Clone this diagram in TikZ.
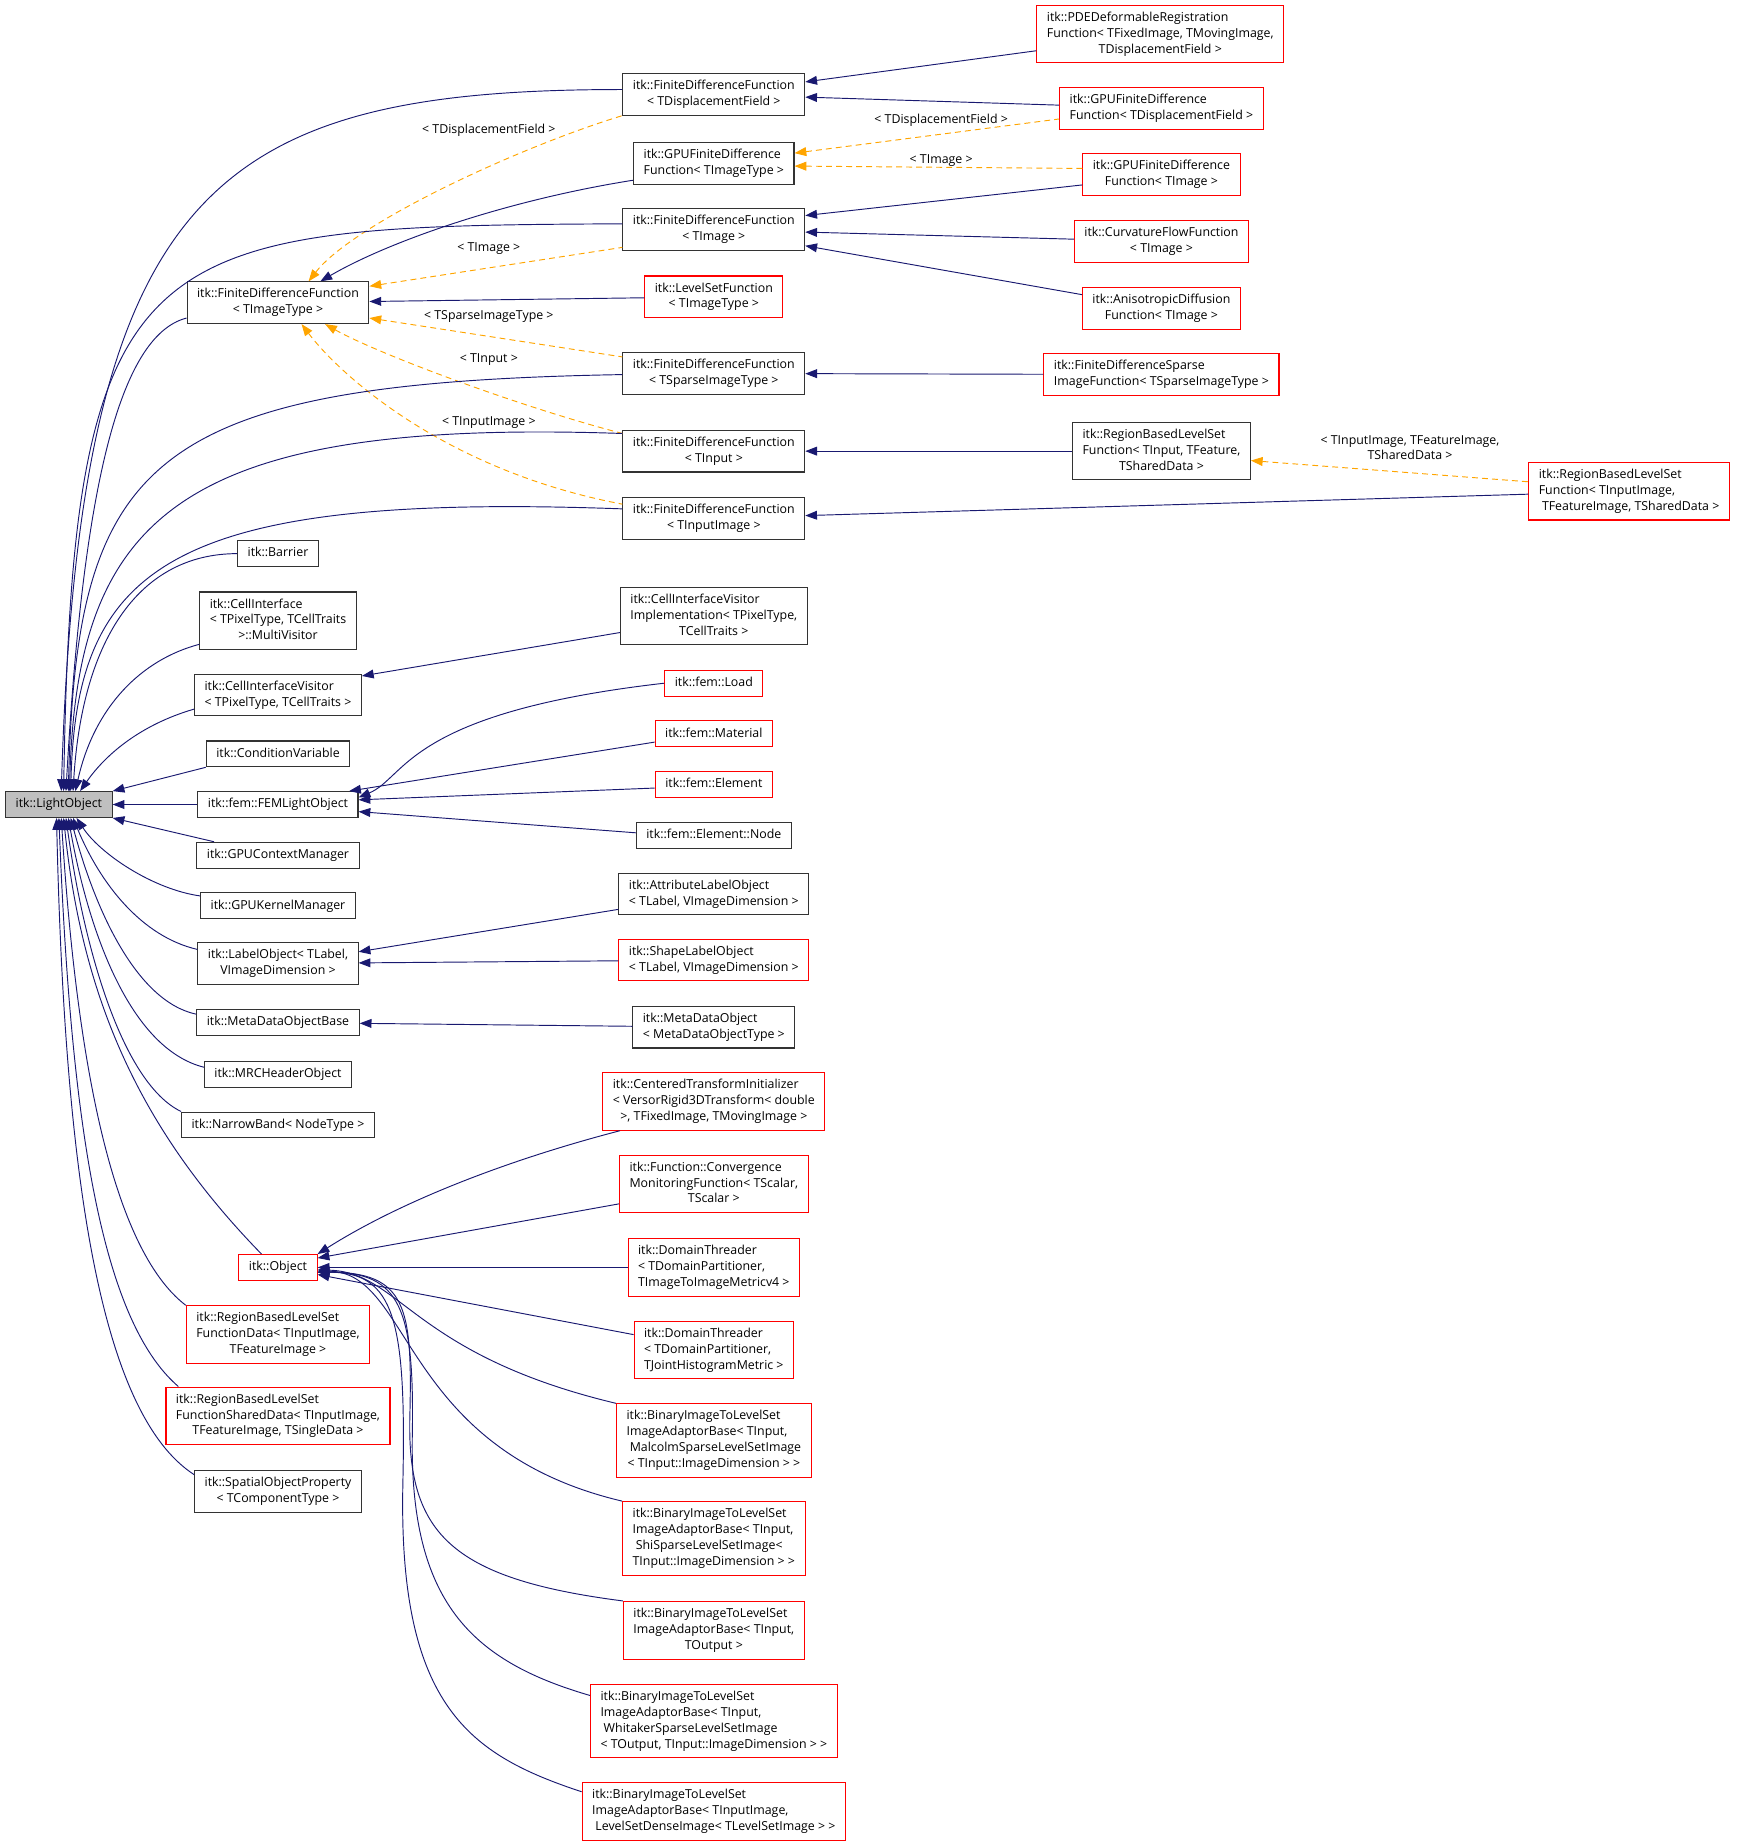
\documentclass[tikz,border=0pt]{standalone}
\usepackage{fontspec}
\setmainfont{Open Sans}
\usetikzlibrary{arrows.meta}
\definecolor{edgeblue}{HTML}{191970}
\definecolor{tplorange}{HTML}{FFA500}
\definecolor{rootgray}{HTML}{BFBFBF}
% one line, or several lines with the last one centred
\newcommand{\lone}[1]{\begin{tabular}{@{}c@{}}#1\end{tabular}}
\newcommand{\lmany}[2]{\begin{tabular}{@{}l@{}}#1\\\multicolumn{1}{@{}c@{}}{#2}\end{tabular}}

\begin{document}
\begin{tikzpicture}[x=1pt, y=-1pt,
    cls/.style={draw=black!80, line width=0.9pt, inner xsep=8.5pt, inner ysep=4.2pt, font=\fontsize{10.5}{13.5}\selectfont},
    ext/.style={cls, draw=red},
    root/.style={cls, fill=rootgray},
    lbl/.style={font=\fontsize{10.5}{13.5}\selectfont, inner sep=0pt, align=center},
    inh/.style={<-, >={Triangle[length=10pt,width=7.5pt]}, draw=edgeblue, line width=0.8pt},
    tpl/.style={<-, >={Triangle[length=10pt,width=7.5pt]}, draw=tplorange, line width=0.8pt, dash pattern=on 5pt off 3.5pt}]
    \useasboundingbox (0,0) rectangle (1476,1568);
    % Nodes
    \node[root] (lo) at (50,683) {\lone{itk::LightObject}};
    \node[cls] (fdfdisp) at (606,80) {\lmany{itk::FiniteDifferenceFunction}{< TDisplacementField >}};
    \node[ext] (pde) at (985,29) {\lmany{itk::PDEDeformableRegistration\\Function< TFixedImage, TMovingImage,}{TDisplacementField >}};
    \node[ext] (gpudisp) at (986,92) {\lmany{itk::GPUFiniteDifference}{Function< TDisplacementField >}};
    \node[cls] (gpufdf) at (606,139) {\lmany{itk::GPUFiniteDifference}{Function< TImageType >}};
    \node[ext] (gpuimg) at (986,148) {\lmany{itk::GPUFiniteDifference}{Function< TImage >}};
    \node[cls] (fdfimg) at (606,195) {\lmany{itk::FiniteDifferenceFunction}{< TImage >}};
    \node[ext] (curv) at (986,205) {\lmany{itk::CurvatureFlowFunction}{< TImage >}};
    \node[ext] (aniso) at (986,262) {\lmany{itk::AnisotropicDiffusion}{Function< TImage >}};
    \node[cls] (fdftype) at (236,257) {\lmany{itk::FiniteDifferenceFunction}{< TImageType >}};
    \node[ext] (lsf) at (606,252) {\lmany{itk::LevelSetFunction}{< TImageType >}};
    \node[cls] (fdfsparse) at (606,317) {\lmany{itk::FiniteDifferenceFunction}{< TSparseImageType >}};
    \node[ext] (fdsparse) at (986,318) {\lmany{itk::FiniteDifferenceSparse}{ImageFunction< TSparseImageType >}};
    \node[cls] (fdfinput) at (606,383) {\lmany{itk::FiniteDifferenceFunction}{< TInput >}};
    \node[cls] (rblsf) at (986,383) {\lmany{itk::RegionBasedLevelSet\\Function< TInput, TFeature,}{TSharedData >}};
    \node[ext] (rblsfimg) at (1383,417) {\lmany{itk::RegionBasedLevelSet\\Function< TInputImage,}{\ TFeatureImage, TSharedData >}};
    \node[cls] (fdfinimg) at (606,440) {\lmany{itk::FiniteDifferenceFunction}{< TInputImage >}};
    \node[cls] (barrier) at (236,470) {\lone{itk::Barrier}};
    \node[cls] (multivis) at (236,527) {\lmany{itk::CellInterface\\< TPixelType, TCellTraits}{>::MultiVisitor}};
    \node[cls] (civ) at (236,590) {\lmany{itk::CellInterfaceVisitor}{< TPixelType, TCellTraits >}};
    \node[cls] (civimpl) at (606,523) {\lmany{itk::CellInterfaceVisitor\\Implementation< TPixelType,}{TCellTraits >}};
    \node[cls] (condvar) at (236,640) {\lone{itk::ConditionVariable}};
    \node[cls] (fem) at (236,683) {\lone{itk::fem::FEMLightObject}};
    \node[ext] (load) at (606,580) {\lone{itk::fem::Load}};
    \node[ext] (material) at (606,623) {\lone{itk::fem::Material}};
    \node[ext] (element) at (606,666) {\lone{itk::fem::Element}};
    \node[cls] (elnode) at (606,709) {\lone{itk::fem::Element::Node}};
    \node[cls] (gpuctx) at (236,726) {\lone{itk::GPUContextManager}};
    \node[cls] (gpukern) at (236,769) {\lone{itk::GPUKernelManager}};
    \node[cls] (labelobj) at (236,818) {\lmany{itk::LabelObject< TLabel,}{VImageDimension >}};
    \node[cls] (attrlabel) at (606,759) {\lmany{itk::AttributeLabelObject}{< TLabel, VImageDimension >}};
    \node[ext] (shapelabel) at (606,815) {\lmany{itk::ShapeLabelObject}{< TLabel, VImageDimension >}};
    \node[cls] (mdobase) at (236,868) {\lone{itk::MetaDataObjectBase}};
    \node[cls] (mdo) at (606,872) {\lmany{itk::MetaDataObject}{< MetaDataObjectType >}};
    \node[cls] (mrc) at (236,912) {\lone{itk::MRCHeaderObject}};
    \node[cls] (narrow) at (236,955) {\lone{itk::NarrowBand< NodeType >}};
    \node[ext] (object) at (236,1076) {\lone{itk::Object}};
    \node[ext] (centered) at (606,935) {\lmany{itk::CenteredTransformInitializer\\< VersorRigid3DTransform< double}{>, TFixedImage, TMovingImage >}};
    \node[ext] (convmon) at (606,1005) {\lmany{itk::Function::Convergence\\MonitoringFunction< TScalar,}{TScalar >}};
    \node[ext] (dtmetric) at (606,1076) {\lmany{itk::DomainThreader\\< TDomainPartitioner,}{TImageToImageMetricv4 >}};
    \node[ext] (dtjoint) at (606,1146) {\lmany{itk::DomainThreader\\< TDomainPartitioner,}{TJointHistogramMetric >}};
    \node[ext] (bmalcolm) at (606,1223) {\lmany{itk::BinaryImageToLevelSet\\ImageAdaptorBase< TInput,\\\ MalcolmSparseLevelSetImage}{< TInput::ImageDimension > >}};
    \node[ext] (bshi) at (606,1306) {\lmany{itk::BinaryImageToLevelSet\\ImageAdaptorBase< TInput,\\\ ShiSparseLevelSetImage<}{TInput::ImageDimension > >}};
    \node[ext] (boutput) at (606,1384) {\lmany{itk::BinaryImageToLevelSet\\ImageAdaptorBase< TInput,}{TOutput >}};
    \node[ext] (bwhit) at (606,1461) {\lmany{itk::BinaryImageToLevelSet\\ImageAdaptorBase< TInput,\\\ WhitakerSparseLevelSetImage}{< TOutput, TInput::ImageDimension > >}};
    \node[ext] (bdense) at (606,1538) {\lmany{itk::BinaryImageToLevelSet\\ImageAdaptorBase< TInputImage,}{\ LevelSetDenseImage< TLevelSetImage > >}};
    \node[ext] (rbdata) at (236,1133) {\lmany{itk::RegionBasedLevelSet\\FunctionData< TInputImage,}{TFeatureImage >}};
    \node[ext] (rbshared) at (236,1202) {\lmany{itk::RegionBasedLevelSet\\FunctionSharedData< TInputImage,}{TFeatureImage, TSingleData >}};
    \node[cls] (spatial) at (236,1266) {\lmany{itk::SpatialObjectProperty}{< TComponentType >}};
    % Labels
    \node[lbl] (ldisp) at (415,111) {< TDisplacementField >};
    \node[lbl] (lgpudisp) at (799,102) {< TDisplacementField >};
    \node[lbl] (lgpuimg) at (799,136) {< TImage >};
    \node[lbl] (limg) at (415,211) {< TImage >};
    \node[lbl] (lsparse) at (415,269) {< TSparseImageType >};
    \node[lbl] (linput) at (415,305) {< TInput >};
    \node[lbl] (linimg) at (415,359) {< TInputImage >};
    \node[lbl] (lrbls) at (1197,380) {< TInputImage, TFeatureImage,\\ TSharedData >};
    % Arrows
    \draw[inh] (fdfdisp) -- (pde);
    \draw[inh] (fdfdisp) -- (gpudisp);
    \draw[tpl] ([yshift=9pt]gpufdf.east) -- ([yshift=-9pt]gpudisp.west);
    \draw[tpl] ([yshift=-2pt]gpufdf.east) -- ([yshift=5pt]gpuimg.west);
    \draw[inh] ([yshift=12pt]fdfimg.east) -- ([yshift=-9pt]gpuimg.west);
    \draw[inh] (fdfimg) -- (curv);
    \draw[inh] (fdfimg) -- (aniso);
    \draw[tpl] ([xshift=26pt]fdftype.north) .. controls (300,190) and (440,125) .. (fdfdisp.south west);
    \draw[inh] ([xshift=36pt]fdftype.north) .. controls (330,205) and (430,170) .. ([yshift=-14pt]gpufdf.west);
    \draw[tpl] ([yshift=14pt]fdftype.east) -- ([yshift=-15pt]fdfimg.west);
    \draw[inh] (fdftype) -- (lsf);
    \draw[tpl] ([yshift=-13pt]fdftype.east) -- ([yshift=14pt]fdfsparse.west);
    \draw[tpl] ([xshift=40pt]fdftype.south) .. controls (320,300) and (440,345) .. ([yshift=15pt]fdfinput.west);
    \draw[tpl] ([xshift=20pt]fdftype.south) .. controls (290,320) and (380,400) .. ([yshift=12pt]fdfinimg.west);
    \draw[inh] (fdfsparse) -- (fdsparse);
    \draw[inh] (fdfinput) -- (rblsf);
    \draw[inh] (fdfinimg) -- (rblsfimg);
    \draw[tpl] ([yshift=-8pt]rblsf.east) -- ([yshift=8pt]rblsfimg.west);
    % from itk::LightObject
    \draw[inh] ([xshift=2pt]lo.north) .. controls (68,160) and (180,76) .. ([yshift=4pt]fdfdisp.west);
    \draw[inh] ([xshift=4pt]lo.north) .. controls (62,200) and (120,192) .. ([yshift=5pt]fdfimg.west);
    \draw[inh] ([xshift=6pt]lo.north) .. controls (70,420) and (100,285) .. ([yshift=-13pt]fdftype.west);
    \draw[inh] ([xshift=8pt]lo.north) .. controls (65,390) and (125,325) .. ([yshift=-1pt]fdfsparse.west);
    \draw[inh] ([xshift=9pt]lo.north) .. controls (65,440) and (150,355) .. ([yshift=15pt]fdfinput.west);
    \draw[inh] ([xshift=10pt]lo.north) .. controls (65,480) and (145,418) .. ([yshift=8pt]fdfinimg.west);
    \draw[inh] ([xshift=12pt]lo.north) .. controls (70,540) and (120,470) .. (barrier.west);
    \draw[inh] ([xshift=14pt]lo.north) .. controls (80,600) and (120,560) .. ([yshift=-20pt]multivis.west);
    \draw[inh] ([xshift=18pt]lo.north) .. controls (90,640) and (120,615) .. ([yshift=-12pt]civ.west);
    \draw[inh] (lo.north east) -- (condvar.south west);
    \draw[inh] (lo) -- (fem);
    \draw[inh] (lo.south east) -- ([xshift=15pt]gpuctx.north west);
    \draw[inh] ([xshift=15pt]lo.south) .. controls (85,725) and (130,755) .. ([yshift=-3pt]gpukern.north west);
    \draw[inh] ([xshift=12pt]lo.south) .. controls (85,750) and (120,795) .. ([yshift=12pt]labelobj.west);
    \draw[inh] ([xshift=10pt]lo.south) .. controls (80,770) and (115,850) .. ([yshift=7pt]mdobase.west);
    \draw[inh] ([xshift=8pt]lo.south) .. controls (75,790) and (110,890) .. ([yshift=6pt]mrc.west);
    \draw[inh] ([xshift=6pt]lo.south) .. controls (72,810) and (105,920) .. (narrow.north west);
    \draw[inh] ([xshift=4pt]lo.south) .. controls (70,850) and (120,960) .. ([xshift=-14pt]object.north);
    \draw[inh] ([xshift=2pt]lo.south) .. controls (65,900) and (95,1060) .. (rbdata.north west);
    \draw[inh] (lo.south) .. controls (60,950) and (85,1120) .. ([xshift=11pt]rbshared.north west);
    \draw[inh] ([xshift=-2pt]lo.south) .. controls (55,1000) and (85,1200) .. ([yshift=-4pt]spatial.north west);
    % middle column
    \draw[inh] ([yshift=-2pt]civ.north east) -- ([yshift=-14pt]civimpl.west);
    \draw[inh] ([yshift=6pt]fem.east) .. controls (345,660) and (345,605) .. (load.west);
    \draw[inh] ([xshift=-8pt]fem.north east) -- ([yshift=-7pt]material.west);
    \draw[inh] ([yshift=4pt]fem.east) -- ([yshift=-3pt]element.west);
    \draw[inh] ([yshift=-6pt]fem.east) -- ([yshift=2pt]elnode.west);
    \draw[inh] ([yshift=10pt]labelobj.east) -- ([yshift=-13pt]attrlabel.west);
    \draw[inh] (labelobj) -- (shapelabel);
    \draw[inh] (mdobase) -- (mdo);
    % from itk::Object
    \draw[inh] (object.north east) .. controls (340,1020) and (430,985) .. ([xshift=15pt]centered.south west);
    \draw[inh] ([yshift=8pt]object.east) -- ([yshift=-17pt]convmon.west);
    \draw[inh] (object) -- (dtmetric);
    \draw[inh] ([yshift=-6pt]object.east) -- ([yshift=13pt]dtjoint.west);
    \draw[inh] ([yshift=-2pt]object.east) .. controls (340,1080) and (350,1150) .. (bmalcolm.north west);
    \draw[inh] ([yshift=-3pt]object.east) .. controls (350,1080) and (340,1230) .. (bshi.north west);
    \draw[inh] ([yshift=-4pt]object.east) .. controls (345,1080) and (350,1110) .. (348,1200) .. controls (345,1300) and (380,1340) .. (boutput.north west);
    \draw[inh] ([yshift=-4pt]object.east) .. controls (340,1080) and (352,1110) .. (350,1220) .. controls (348,1360) and (400,1410) .. ([yshift=-10pt]bwhit.north west);
    \draw[inh] ([yshift=-4pt]object.east) .. controls (335,1080) and (345,1120) .. (342,1260) .. controls (338,1450) and (400,1490) .. ([yshift=-8pt]bdense.north west);
\end{tikzpicture}
\end{document}
